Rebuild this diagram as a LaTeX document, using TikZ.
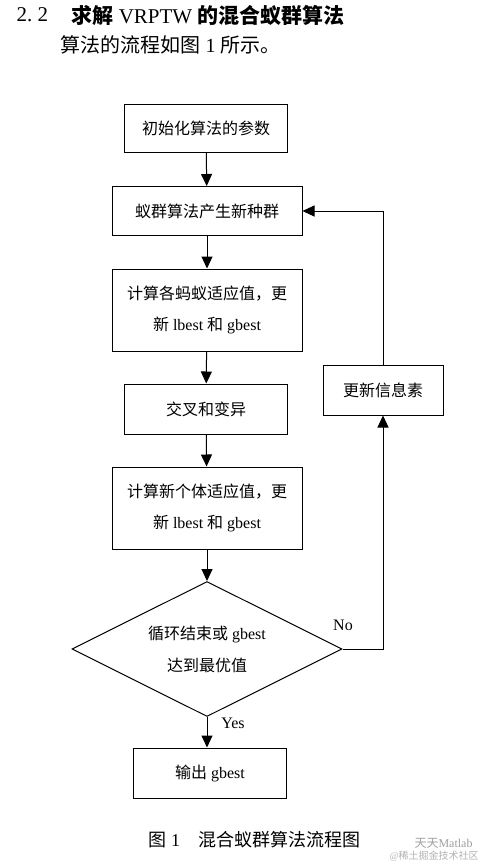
\documentclass[tikz,border=0pt]{standalone}
\usepackage{fontspec}
\setmainfont{Liberation Serif}
\newfontfamily\cjk{Noto Sans CJK SC}
\newcommand{\zh}[1]{{\cjk #1}}
\usetikzlibrary{shapes.geometric,arrows.meta}

\begin{document}
\begin{tikzpicture}[x=1pt, y=-1pt, >={Triangle[length=12pt,width=11pt]},
  flowbox/.style={draw, line width=1pt, align=center, inner sep=0pt,
    font=\fontsize{16}{31}\selectfont},
  decision/.style={diamond, aspect=2, draw, line width=1pt, align=center, inner sep=0pt,
    minimum width=270pt, minimum height=135pt, font=\fontsize{16}{32}\selectfont},
  link/.style={->, line width=1pt}]
  % Page frame, same size as the scanned page
  \useasboundingbox (0,0) rectangle (492,865);
  % Section heading and the sentence under it
  \node[anchor=west, font=\fontsize{21}{24}\selectfont] (secnum) at (13,15) {2.\ 2};
  \node[anchor=west, font=\fontsize{21}{24}\selectfont] (sectitle) at (68,15)
    {{\cjk\bfseries 求解} VRPTW {\cjk\bfseries 的混合蚁群算法}};
  \node[anchor=west, font=\fontsize{20}{24}\selectfont] (intro) at (57,45)
    {\zh{算法的流程如图} 1 \zh{所示。}};
  % Main column of steps
  \node[flowbox, minimum width=163pt, minimum height=48pt] (init) at (206,128)
    {\zh{初始化算法的参数}};
  \node[flowbox, minimum width=190pt, minimum height=49pt] (gen) at (207,211)
    {\zh{蚁群算法产生新种群}};
  \node[flowbox, minimum width=190pt, minimum height=82pt] (fit) at (207,310)
    {\zh{计算各蚂蚁适应值，更}\\\zh{新} lbest \zh{和} gbest};
  \node[flowbox, minimum width=163pt, minimum height=50pt] (cross) at (206,409)
    {\zh{交叉和变异}};
  \node[flowbox, minimum width=190pt, minimum height=82pt] (newfit) at (207,508)
    {\zh{计算新个体适应值，更}\\\zh{新} lbest \zh{和} gbest};
  \node[decision] (check) at (207,649)
    {\zh{循环结束或} gbest\\\zh{达到最优值}};
  \node[flowbox, minimum width=153pt, minimum height=50pt] (output) at (210,773)
    {\zh{输出} gbest};
  % Side box of the loop
  \node[flowbox, minimum width=120pt, minimum height=50pt] (pher) at (383,390)
    {\zh{更新信息素}};
  % Arrows down the main column
  \foreach \a/\b in {init/gen, gen/fit, fit/cross, cross/newfit, newfit/check} {
    \draw[link] (\a) -- (\b);
  }
  \draw[link] (check.south) -- (check.south |- output.north);
  % Loop back through the pheromone update
  \draw[link] (check.east) -| (pher.south);
  \draw[link] (pher.north) |- (gen.east);
  % Branch labels
  \node[font=\fontsize{16}{18}\selectfont] (nolabel) at (343,625) {No};
  \node[font=\fontsize{16}{18}\selectfont] (yeslabel) at (233,723) {Yes};
  % Caption and watermark
  \node[anchor=west, font=\fontsize{18}{22}\selectfont] (caption) at (145,840)
    {\zh{图} 1\quad\zh{混合蚁群算法流程图}};
  \node[anchor=west, text=gray!75, font=\fontsize{12}{14}\selectfont] (mark) at (411,843)
    {\zh{天天}Matlab};
  \node[anchor=west, text=gray!60, font=\fontsize{10}{12}\selectfont] (site) at (386,856)
    {@\zh{稀土掘金技术社区}};
\end{tikzpicture}
\end{document}
